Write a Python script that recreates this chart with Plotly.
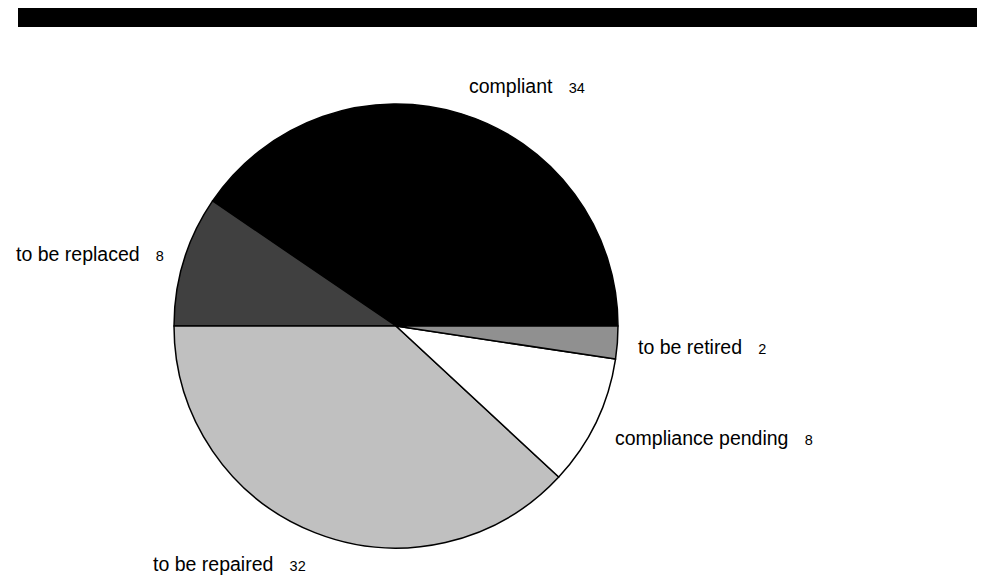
import math
import plotly.graph_objects as go

labels = ["compliant", "to be replaced", "to be repaired", "compliance pending", "to be retired"]
values = [34, 8, 32, 8, 2]
colors = ["#000000", "#404040", "#c0c0c0", "#ffffff", "#909090"]

W, H = 983, 575
cx, cy, R = 396, 249, 222  # pie centre (px from left / bottom) and radius

total = sum(values)
# first slice starts at 3 o'clock and the slices run counterclockwise
rotation = 90 - 360.0 * values[0] / total

fig = go.Figure(go.Pie(
    labels=labels, values=values, sort=False, direction="counterclockwise",
    rotation=rotation, textinfo="none", hoverinfo="label+value",
    marker=dict(colors=colors, line=dict(color="#000000", width=1.5)),
    domain=dict(x=[(cx - R) / W, (cx + R) / W], y=[(cy - R) / H, (cy + R) / H]),
    showlegend=False,
))

start = 0.0
annotations = []
for lab, v in zip(labels, values):
    mid = start + v / total * 180.0
    start += v / total * 360.0
    a = math.radians(mid)
    x = (cx + (R + 19) * math.cos(a)) / W
    y = (cy - 2.5 + (R + 31.5) * math.sin(a)) / H
    annotations.append(dict(
        x=x, y=y, xref="paper", yref="paper", showarrow=False,
        xanchor="left" if math.cos(a) >= 0 else "right", yanchor="middle",
        text=f"{lab}&nbsp;&nbsp;&nbsp;<span style='font-size:14.5px'>{v}</span>",
        font=dict(family="Liberation Sans, Arial, sans-serif", size=19.5, color="#000000"),
    ))

fig.update_layout(
    width=W, height=H, margin=dict(l=0, r=0, t=0, b=0),
    paper_bgcolor="#ffffff", plot_bgcolor="#ffffff",
    annotations=annotations,
    shapes=[dict(type="rect", xref="paper", yref="paper",
                 x0=18 / W, x1=977 / W, y0=1 - 27 / H, y1=1 - 8 / H,
                 fillcolor="#000000", line=dict(width=0))],
)
fig.write_html("out.html", config={"displayModeBar": False},
               post_script="document.body.style.margin='0';document.body.style.overflow='hidden';")
